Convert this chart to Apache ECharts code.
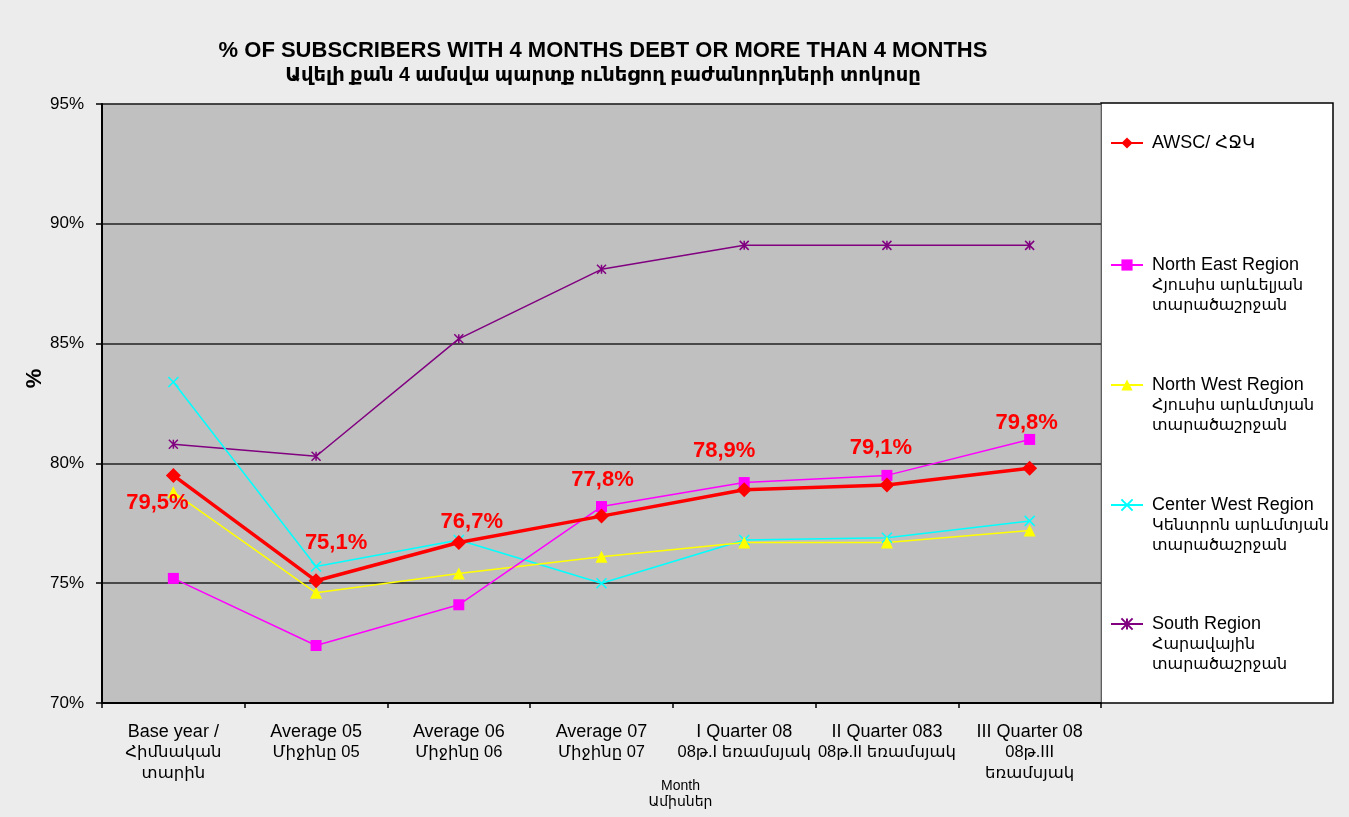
<!DOCTYPE html>
<html>
<head>
<meta charset="utf-8">
<script src="https://cdn.jsdelivr.net/npm/echarts@6/dist/echarts.min.js"></script>
<style>
html, body { margin: 0; padding: 0; background: #ececec; }
#main { width: 1349px; height: 817px; }
</style>
</head>
<body>
<div id="main"></div>
<script>
// categories (x axis)
var categories = [
    'Base year /\nՀիմնական\nտարին',
    'Average 05\nՄիջինը 05',
    'Average 06\nՄիջինը 06',
    'Average 07\nՄիջինը 07',
    'I Quarter 08\n08թ.I եռամսյակ',
    'II Quarter 083\n08թ.II եռամսյակ',
    'III Quarter 08\n08թ.III\nեռամսյակ'
];
var yTicks = [70, 75, 80, 85, 90, 95];

// series values, %
var awsc = [79.5, 75.1, 76.7, 77.8, 78.9, 79.1, 79.8];
var northEast = [75.2, 72.4, 74.1, 78.2, 79.2, 79.5, 81.0];
var northWest = [78.8, 74.6, 75.4, 76.1, 76.7, 76.7, 77.2];
var centerWest = [83.4, 75.7, 76.8, 75.0, 76.8, 76.9, 77.6];
var south = [80.8, 80.3, 85.2, 88.1, 89.1, 89.1, 89.1];

var seriesNames = ['AWSC/ ՀՋԿ', 'North East Region', 'North West Region', 'Center West Region', 'South Region'];
var seriesSub = ['', 'Հյուսիս արևելյան\nտարածաշրջան', 'Հյուսիս արևմտյան\nտարածաշրջան', 'Կենտրոն արևմտյան\nտարածաշրջան', 'Հարավային\nտարածաշրջան'];

// where the red labels sit relative to their point
var labelOffsets = [[-16, 28], [20, -38], [13, -21], [1, -36], [-20, -39], [-6, -37], [-3, -45]];

var FONT = '"Liberation Sans", Arial, "DejaVu Sans", sans-serif';
var myChart = echarts.init(document.getElementById('main'));

var crossPath = 'path://M0,0L10,10M10,0L0,10';
var starPath = 'path://M0,0L10,10M10,0L0,10M5,0L5,10';

function lineSeries(name, data, color, symbol, size, width, stroke) {
    return {
        name: name,
        type: 'line',
        data: data,
        symbol: symbol,
        symbolSize: size,
        showAllSymbol: true,
        lineStyle: { color: color, width: width },
        itemStyle: stroke ? { color: 'rgba(0,0,0,0)', borderColor: color, borderWidth: 1.5 } : { color: color, borderWidth: 0 },
        emphasis: { disabled: true },
        animation: false
    };
}

var redSeries = lineSeries(seriesNames[0], awsc.map(function (v, i) {
    return { value: v, label: { offset: labelOffsets[i] } };
}), '#ff0000', 'diamond', 15, 3.5);
redSeries.z = 10;
redSeries.label = {
    show: true,
    position: 'inside',
    color: '#ff0000',
    fontSize: 22,
    fontWeight: 'bold',
    fontFamily: FONT,
    formatter: function (p) { return String(p.value).replace('.', ',') + '%'; }
};

var series = [
    lineSeries(seriesNames[4], south, '#800080', starPath, 9, 1.5, true),
    lineSeries(seriesNames[3], centerWest, '#00ffff', crossPath, 10, 1.5, true),
    lineSeries(seriesNames[2], northWest, '#ffff00', 'triangle', 12, 1.5),
    lineSeries(seriesNames[1], northEast, '#ff00ff', 'rect', 11, 1.5),
    redSeries
];

var LH = 20.5;
var richLatin = { fontSize: 18, color: '#000', fontFamily: FONT, lineHeight: LH };
var richArm = { fontSize: 16, color: '#000', fontFamily: FONT, lineHeight: LH };

var legendCenters = [143, 265, 385, 505, 624];
var legends = seriesNames.map(function (n, i) {
    var multi = seriesSub[i] !== '';
    return {
        data: [n],
        left: 1110,
        top: multi ? legendCenters[i] - 2.5 * LH : legendCenters[i] - 0.5 * LH,
        orient: 'vertical',
        padding: 0,
        itemWidth: 32,
        itemHeight: 14,
        selectedMode: false,
        textStyle: {
            fontSize: 18, color: '#000', fontFamily: FONT, lineHeight: LH, padding: [0, 0, 0, 4],
            rich: { a: richLatin, b: richArm }
        },
        formatter: function (name) {
            if (!multi) return '{a|' + name + '}';
            return '{a| }\n{a| }\n{a|' + name + '}\n' + seriesSub[i].split('\n').map(function (s) {
                return '{b|' + s + '}';
            }).join('\n');
        }
    };
});

option = {
    backgroundColor: '#ececec',
    title: {
        text: '{a|% OF SUBSCRIBERS WITH 4 MONTHS DEBT OR MORE THAN 4 MONTHS}\n{b|Ավելի քան 4 ամսվա պարտք ունեցող բաժանորդների տոկոսը}',
        left: 598,
        top: 33,
        textAlign: 'center',
        textStyle: {
            rich: {
                a: { fontSize: 22, fontWeight: 'bold', color: '#000', fontFamily: FONT, lineHeight: 25, align: 'center' },
                b: { fontSize: 19.5, fontWeight: 'bold', color: '#000', fontFamily: FONT, lineHeight: 25, align: 'center' }
            }
        }
    },
    graphic: [{
        type: 'rect',
        shape: { x: 1101, y: 103, width: 232, height: 600 },
        style: { fill: '#ffffff', stroke: '#000', lineWidth: 1.5 },
        z: -1
    }],
    legend: legends,
    grid: {
        left: 102,
        top: 104,
        width: 999,
        height: 599,
        outerBoundsMode: 'none',
        containLabel: false,
        show: true,
        backgroundColor: '#c0c0c0',
        borderColor: '#808080',
        borderWidth: 1
    },
    xAxis: {
        type: 'category',
        data: categories,
        boundaryGap: true,
        name: 'Month\nԱմիսներ',
        nameLocation: 'middle',
        nameGap: 75,
        nameMoveOverlap: false,
        nameTextStyle: { fontSize: 14, color: '#000', fontFamily: FONT, lineHeight: 16, padding: [0, 0, 0, 158] },
        axisLine: { lineStyle: { color: '#000', width: 2 } },
        axisTick: { show: true, length: 5, lineStyle: { color: '#000', width: 1.5 } },
        axisLabel: {
            color: '#000', fontFamily: FONT, lineHeight: LH, margin: 19, interval: 0,
            formatter: function (v) {
                return v.split('\n').map(function (s, i) {
                    return (i === 0 ? '{a|' : '{b|') + s + '}';
                }).join('\n');
            },
            rich: { a: richLatin, b: { fontSize: 16.5, color: '#000', fontFamily: FONT, lineHeight: LH } }
        }
    },
    yAxis: {
        type: 'value',
        min: yTicks[0],
        max: yTicks[yTicks.length - 1],
        interval: 5,
        name: '%',
        nameLocation: 'middle',
        nameGap: 56,
        nameMoveOverlap: false,
        nameRotate: 90,
        nameTextStyle: { fontSize: 22, fontWeight: 'bold', color: '#000', fontFamily: FONT, padding: [0, 0, 0, 50] },
        axisLine: { show: true, lineStyle: { color: '#000', width: 2 } },
        axisTick: { show: true, length: 6, lineStyle: { color: '#000', width: 1.5 } },
        axisLabel: { fontSize: 17, color: '#000', fontFamily: FONT, margin: 18, formatter: '{value}%' },
        splitLine: { show: true, lineStyle: { color: '#222', width: 1.5 } }
    },
    series: series
};

myChart.setOption(option);
</script>
</body>
</html>
